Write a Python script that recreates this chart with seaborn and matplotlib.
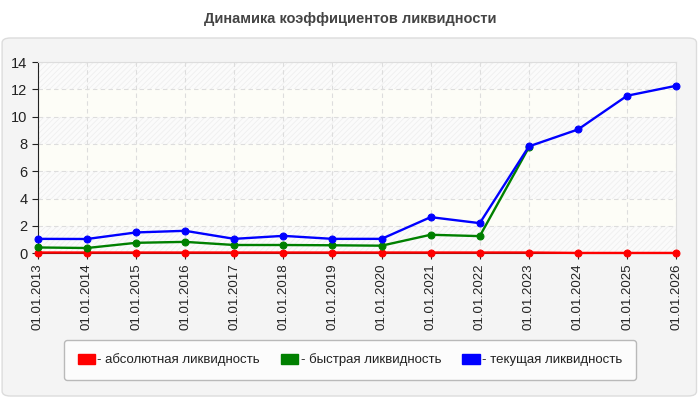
import numpy as np
import pandas as pd
import matplotlib
matplotlib.use("Agg")
import matplotlib.pyplot as plt
import seaborn as sns
from matplotlib.patches import FancyBboxPatch, Patch

# ----------- Data -----------
dates = ["01.01.2013", "01.01.2014", "01.01.2015", "01.01.2016", "01.01.2017",
         "01.01.2018", "01.01.2019", "01.01.2020", "01.01.2021", "01.01.2022",
         "01.01.2023", "01.01.2024", "01.01.2025", "01.01.2026"]
absolute = [0.05, 0.05, 0.05, 0.05, 0.05, 0.05, 0.05, 0.05, 0.05, 0.05, 0.05, 0.02, 0.02, 0.02]
quick = [0.42, 0.38, 0.76, 0.83, 0.6, 0.6, 0.58, 0.55, 1.35, 1.25, 7.75,
         np.nan, np.nan, np.nan]
current = [1.05, 1.04, 1.52, 1.64, 1.05, 1.27, 1.05, 1.05, 2.64, 2.2, 7.82, 9.06, 11.53, 12.26]
labels = ["- абсолютная ликвидность", "- быстрая ликвидность", "- текущая ликвидность"]
colors = ["#ff0000", "#008000", "#0000ff"]

df = pd.DataFrame({"date": dates, labels[0]: absolute, labels[1]: quick, labels[2]: current})
long = df.melt(id_vars="date", var_name="series", value_name="value")
long["x"] = long["date"].map({d: i for i, d in enumerate(dates)})

sns.set_style("white")
plt.rcParams["font.family"] = ["Liberation Sans", "DejaVu Sans"]
plt.rcParams["hatch.linewidth"] = 0.6

fig = plt.figure(figsize=(7, 4), dpi=100)
fig.patch.set_facecolor("white")

# outer panel
panel = FancyBboxPatch((0.003, 0.01), 0.992, 0.895, boxstyle="round,pad=0,rounding_size=0.012",
                       transform=fig.transFigure, facecolor="#f4f4f4", edgecolor="#dcdcdc",
                       linewidth=1, zorder=-10)
fig.patches.append(panel)

fig.text(0.5, 0.952, "Динамика коэффициентов ликвидности", ha="center", va="center",
         fontsize=10.5, fontweight="bold", color="#444444")

ax = fig.add_axes([0.054, 0.367, 0.912, 0.478])
ax.set_facecolor("#fdfdf7")

# alternating hatched bands
for lo in range(0, 14, 4):
    ax.axhspan(lo, lo + 2, facecolor="#fbfbfb", edgecolor="#efefef", hatch="//////",
               linewidth=0, zorder=0)
ax.axhspan(12, 14, facecolor="#fbfbfb", edgecolor="#efefef", hatch="//////", linewidth=0, zorder=0)

for i, lab in enumerate(labels):
    sub = long[long["series"] == lab].dropna()
    sns.lineplot(data=sub, x="x", y="value", ax=ax, color=colors[i], linewidth=1.7,
                 marker="o", markersize=5, markeredgecolor=colors[i], zorder=3 + i,
                 legend=False, clip_on=False)

ax.set_xlim(0, len(dates) - 1)
ax.set_ylim(0, 14)
ax.set_xticks(range(len(dates)))
ax.set_xticklabels(dates, rotation=90, fontsize=9.5, color="#222222")
ax.set_yticks(range(0, 15, 2))
ax.tick_params(axis="y", labelsize=10.5, colors="#222222", length=4, left=True)
ax.tick_params(axis="x", length=4, bottom=True)
ax.set_xlabel("")
ax.set_ylabel("")
ax.grid(True, color="#dddddd", linestyle=(0, (4, 3)), linewidth=0.8, zorder=1)
ax.set_axisbelow(True)
for s in ["top", "right"]:
    ax.spines[s].set_color("#dddddd")
for s in ["left", "bottom"]:
    ax.spines[s].set_color("#222222")

handles = [Patch(facecolor=c, edgecolor=c) for c in colors]
leg = fig.legend(handles, labels, loc="center", bbox_to_anchor=(0.5, 0.1), ncol=3,
                 fontsize=9.5, frameon=True, handlelength=1.3, handleheight=0.8,
                 handletextpad=0.2, columnspacing=1.6, borderpad=1.0, fancybox=True)
leg.get_frame().set_facecolor("white")
leg.get_frame().set_edgecolor("#aaaaaa")
for t in leg.get_texts():
    t.set_color("#222222")

fig.savefig("out.png", dpi=100)
